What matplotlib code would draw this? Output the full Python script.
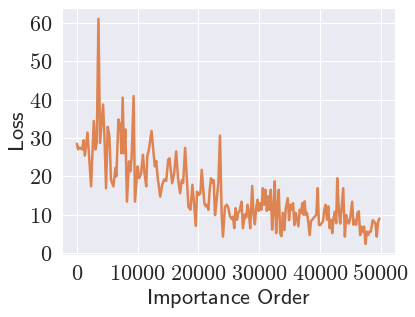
import matplotlib
matplotlib.use('Agg')
import matplotlib.pyplot as plt
from matplotlib.ticker import FuncFormatter, MultipleLocator
import seaborn as sns
import numpy as np

# loss along the importance order
order = [0, 213, 443, 869, 1098, 1311, 1754, 2344, 2786, 3065, 3278, 3557, 3819, 4311, 4540,
         4802, 5081, 5360, 5622, 6015, 6343, 6507, 6835, 7163, 7327, 7540, 7753, 7982, 8244,
         8577, 8796, 9015, 9342, 9560, 9998, 10216, 10544, 10872, 11091, 11419, 11583, 11855,
         12293, 12620, 12838, 13058, 13276, 13714, 14041, 14369, 14697, 15025, 15243, 15680,
         16008, 16336, 16664, 16991,
         17264, 17483, 17811, 18139, 18357, 18685, 19012, 19231, 19558, 19778, 20106, 20324,
         20542, 20761, 20979, 21197, 21417, 21635, 21853, 22072, 22290, 22509, 22728, 22946,
         23274, 23547, 23820, 24039, 24367, 24695, 24913, 25187, 25459,
         25678, 25896, 26114, 26334, 26552, 26770, 27098, 27317, 27645, 27863, 28081, 28301,
         28519, 28846, 29065, 29284, 29502, 29720, 29939, 30158, 30376, 30595, 30813, 31031,
         31251, 31469, 31687, 31906, 32124, 32343, 32562, 32780, 32998, 33218, 33436, 33654,
         33873,
         34146, 34365, 34693, 34911, 35129, 35348, 35566, 35784, 36004, 36222, 36440, 36660,
         36878, 37096, 37315, 37479, 37643, 37861, 38079, 38299, 38517, 38734, 38954, 39172,
         39390, 39610, 39828, 40046, 40265, 40483, 40701, 40921, 41139, 41357, 41577, 41795,
         42013, 42232, 42450, 42668, 42832,
         43106, 43324, 43543, 43816, 44089, 44307, 44527, 44745, 44963, 45291, 45510, 45728,
         45946, 46166, 46384, 46602, 46821, 47039, 47258, 47477, 47695, 47913, 48133, 48351,
         48678, 48897, 49116, 49334, 49552, 49771]

loss = [28.5, 27, 27.5, 27, 29.4, 25.4, 31.4, 17.4, 34.4, 27, 28.8, 61.0, 28.7, 38.7, 30.4,
        16.9, 32.9, 30.4, 19.1, 17.4, 22.2, 20, 34.8, 33, 26, 40.5, 26, 32.2, 13.4,
        23.9, 21.3, 25, 40.9, 13.4, 22.6, 19.5, 20.5, 25.6, 21.3, 17.4, 25.2, 27,
        31.8, 26, 22.6, 24, 20, 14.7, 17.8, 19.2, 18.8, 24.3, 24.7, 18.2,
        20.8, 26.5, 19.2, 15.6,
        19, 18.3, 27.4, 18.3, 12.1, 11.3, 17.8, 13.9, 7.1, 16, 15.2, 15.6,
        21.7, 17.4, 13, 12.2, 12.6, 11.3, 16.5, 19.5, 18.3, 19, 9.9, 13,
        18.3, 30.6, 10.3, 4.3, 12.1, 12.6, 11.8, 9.6, 8.9,
        9.5, 6.5, 11.7, 8.7, 10.5, 11, 13.4, 6.5, 10.1, 9.3, 12.6, 10.5,
        6.5, 17.5, 10.1, 7.5, 11.7, 13.9, 11, 13, 11.3, 16.9, 12.6, 16.5,
        11, 14.8, 11.3, 16.5, 6.1, 11.3, 18.7, 5.2, 11.7, 16.5, 5.2, 4.4,
        10.5,
        6, 11.7, 14.3, 8.6, 12.6, 11.3, 13, 7.3, 10.5, 8.7, 7, 11.3,
        10.5, 13, 10, 13.5, 10, 10.5, 8, 4.7, 8.4, 8.7, 9.2, 9.6,
        10, 16.9, 7.3, 7.3, 7.8, 8.2, 11.3, 12.6, 8.7, 12.2, 6.5, 8.7,
        5.2, 9.2, 10.8, 7.8, 19.5,
        11, 7.7, 11.8, 16.9, 4.3, 9.9, 8.2, 7.7, 9, 13.4, 7.4, 8.6,
        7.4, 10.5, 10.9, 4.7, 6.9, 5.6, 6.9, 2.4, 5.6, 4.7, 5.6, 5.6,
        8.6, 8.2, 7.7, 4.3, 8.2, 9]

sns.set_style('darkgrid')
plt.rcParams['mathtext.fontset'] = 'cm'

fig = plt.figure(figsize=(4.15, 3.17), dpi=100)
ax = fig.add_axes([0.1487, 0.195, 0.802, 0.781])

ax.plot(order, loss, color='#dd8452', linewidth=1.8)

ax.xaxis.set_major_locator(MultipleLocator(10000))
ax.yaxis.set_major_locator(MultipleLocator(10))
fmt = FuncFormatter(lambda v, p: r'$%d$' % int(round(v)))
ax.xaxis.set_major_formatter(fmt)
ax.yaxis.set_major_formatter(fmt)
ax.tick_params(axis='both', labelsize=16, pad=3)

ax.set_xlabel(r'$\mathsf{Importance\ Order}$', fontsize=16, labelpad=2)
ax.set_ylabel(r'$\mathsf{Loss}$', fontsize=16, labelpad=1)

fig.savefig('out.png', dpi=100)
plt.close(fig)
